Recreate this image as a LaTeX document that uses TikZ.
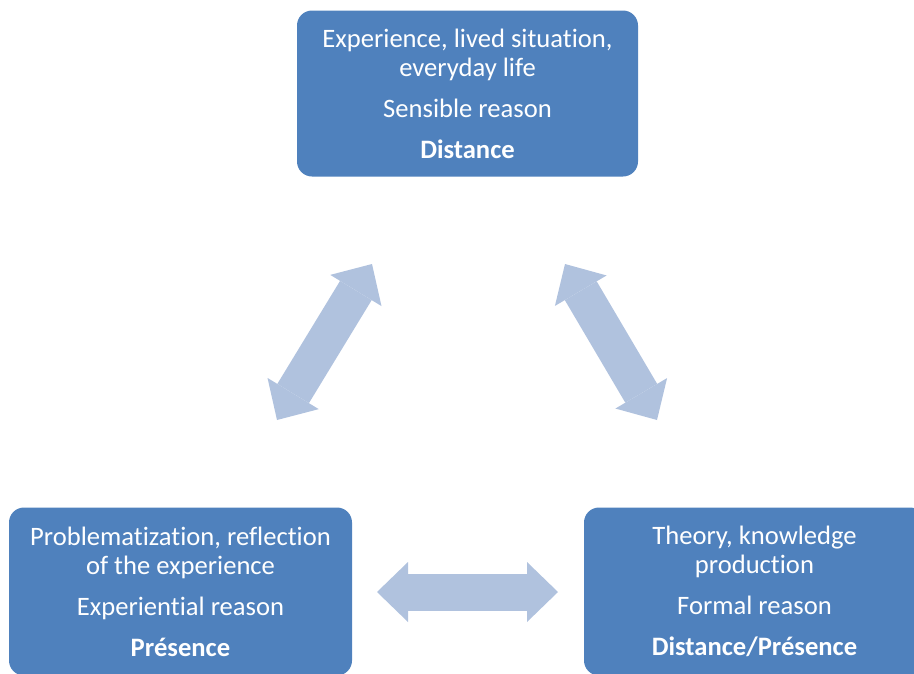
\documentclass[tikz,border=0pt]{standalone}
\usepackage{fontspec}
\setmainfont{Carlito}[Ligatures=NoCommon]
\usetikzlibrary{arrows.meta}
\definecolor{boxblue}{RGB}{79,129,189}
\definecolor{arrowblue}{RGB}{176,194,222}

\begin{document}
\begin{tikzpicture}[x=1pt,y=-1pt,
  >={Triangle[length=31pt,width=60pt,line width=0pt]},
  box/.style={fill=boxblue, rounded corners=15pt, text=white, align=center,
    minimum width=341pt, minimum height=166pt, inner sep=0pt,
    font=\fontsize{26.6}{29}\selectfont},
  twoway/.style={<->, draw=arrowblue, line width=37pt}]
  \useasboundingbox (0,0) rectangle (914,673);

  \node[box] (exper) at (467.5,93.5) {Experience, lived situation,\\ everyday life\\[12pt] Sensible reason\\[12pt] \textbf{Distance}};
  \node[box, minimum width=343pt, minimum height=168pt] (probl) at (180.5,591.5) {Problematization, reflection\\ of the experience\\[12pt] Experiential reason\\[12pt] \textbf{Présence}};
  \node[box, minimum height=168pt] (theory) at (754.5,591.5) {Theory, knowledge\\ production\\[12pt] Formal reason\\[12pt] \textbf{Distance/Présence}};

  \coordinate (exper-l) at (372,264);
  \coordinate (probl-t) at (277,420);
  \coordinate (exper-r) at (565,264);
  \coordinate (theory-t) at (657,420);
  \coordinate (probl-r) at (377,592);
  \coordinate (theory-l) at (558,592);

  \draw[twoway] (exper-l) -- (probl-t);
  \draw[twoway] (exper-r) -- (theory-t);
  \draw[twoway] (probl-r) -- (theory-l);
\end{tikzpicture}
\end{document}
